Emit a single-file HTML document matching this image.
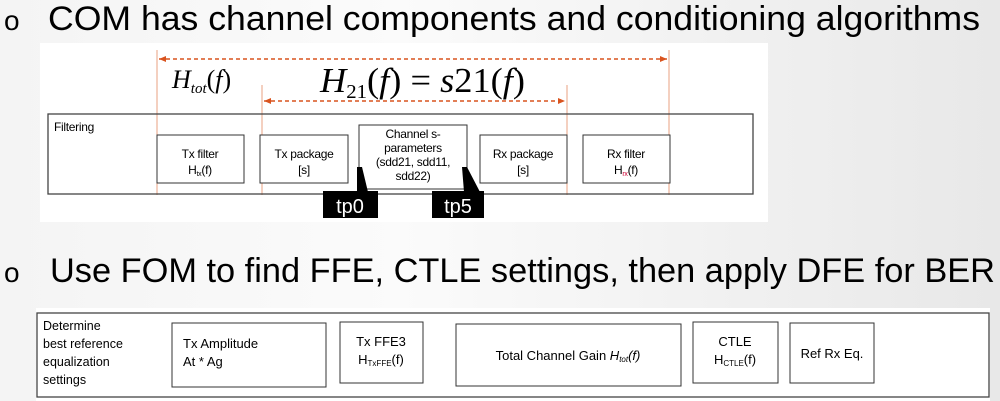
<!DOCTYPE html>
<html><head><meta charset="utf-8"><style>
html,body{margin:0;padding:0;width:1000px;height:401px;overflow:hidden}
body{background:linear-gradient(90deg,#f4f4f4 0%,#fbfbfb 40%,#e8e8e8 100%)}
svg{display:block;font-family:"Liberation Sans",sans-serif}
</style></head><body>
<svg width="1000" height="401" viewBox="0 0 1000 401">
<defs>
<marker id="ar" markerWidth="8" markerHeight="8" refX="7" refY="4" orient="auto-start-reverse" markerUnits="userSpaceOnUse"><path d="M0,1 L7,4 L0,7 z" fill="#d9531e"/></marker>
</defs>
<text x="4" y="30" font-size="28">o</text>
<text x="48" y="30" font-size="34" textLength="932" lengthAdjust="spacingAndGlyphs">COM has channel components and conditioning algorithms</text>
<rect x="40" y="43" width="728" height="179" fill="#fff"/>
<g stroke="#e8a080" stroke-width="1">
<line x1="157" y1="50" x2="157" y2="195"/><line x1="262" y1="85" x2="262" y2="195"/>
<line x1="567" y1="85" x2="567" y2="195"/><line x1="669" y1="50" x2="669" y2="195"/>
</g>
<line x1="159" y1="59" x2="667" y2="59" stroke="#d9531e" stroke-width="1.5" stroke-dasharray="4,3" marker-start="url(#ar)" marker-end="url(#ar)"/>
<line x1="264" y1="101" x2="565" y2="101" stroke="#d9531e" stroke-width="1.5" stroke-dasharray="4,3" marker-start="url(#ar)" marker-end="url(#ar)"/>
<g font-family="Liberation Serif,serif" font-style="italic">
<text x="172" y="88" font-size="26">H<tspan font-size="15" dy="5">tot</tspan><tspan dy="-5" font-style="normal">(</tspan>f<tspan font-style="normal">)</tspan></text>
<text x="320" y="92" font-size="35" textLength="205" lengthAdjust="spacingAndGlyphs">H<tspan font-size="20" dy="6" font-style="normal">21</tspan><tspan dy="-6" font-style="normal">(</tspan>f<tspan font-style="normal">) = </tspan>s<tspan font-style="normal">21(</tspan>f<tspan font-style="normal">)</tspan></text>
</g>
<rect x="48" y="114" width="705" height="80" fill="none" stroke="#444" stroke-width="1.3"/>
<text x="54" y="131" font-size="12" letter-spacing="-0.3">Filtering</text>
<g fill="#fff" stroke="#333" stroke-width="1">
<rect x="157" y="135" width="87" height="48"/><rect x="260" y="135" width="88" height="48"/>
<rect x="359" y="125" width="108" height="64"/><rect x="480" y="135" width="87" height="48"/>
<rect x="583" y="135" width="87" height="48"/>
</g>
<g font-size="12" text-anchor="middle" letter-spacing="-0.3">
<text x="200" y="158">Tx filter</text><text x="200" y="174">H<tspan font-size="7" dy="2">tx</tspan><tspan dy="-2">(f)</tspan></text>
<text x="304" y="158">Tx package</text><text x="304" y="174">[s]</text>
<text x="413" y="138">Channel s-</text><text x="413" y="152">parameters</text><text x="413" y="166">(sdd21, sdd11,</text><text x="413" y="180">sdd22)</text>
<text x="523" y="158">Rx package</text><text x="523" y="174">[s]</text>
<text x="626" y="158">Rx filter</text><text x="626" y="174">H<tspan font-size="7" dy="2" fill="#c03">rx</tspan><tspan dy="-2">(f)</tspan></text>
</g>
<g fill="#000">
<polygon points="357,167 362,167 368,192 357,192"/><rect x="323" y="191" width="55" height="27"/>
<polygon points="462,167 467,167 480,192 464,192"/><rect x="432" y="191" width="52" height="27"/>
</g>
<text x="350" y="213" font-size="20" fill="#fff" text-anchor="middle">tp0</text>
<text x="458" y="213" font-size="20" fill="#fff" text-anchor="middle">tp5</text>

<text x="4" y="282" font-size="28">o</text>
<text x="50" y="282" font-size="34" textLength="945" lengthAdjust="spacingAndGlyphs">Use FOM to find FFE, CTLE settings, then apply DFE for BER</text>
<rect x="36" y="308" width="954" height="93" fill="#fff"/>
<rect x="37" y="313" width="952" height="84" fill="none" stroke="#444" stroke-width="1.3"/>
<g font-size="12.5">
<text x="43" y="330">Determine</text><text x="43" y="348">best reference</text>
<text x="43" y="366">equalization</text><text x="43" y="384">settings</text>
</g>
<g fill="#fff" stroke="#333" stroke-width="1">
<rect x="172" y="323" width="154" height="64"/><rect x="340" y="322" width="83" height="61"/>
<rect x="456" y="324" width="225" height="62"/><rect x="693" y="322" width="85" height="61"/>
<rect x="790" y="323" width="84" height="60"/>
</g>
<g font-size="13">
<text x="183" y="348">Tx Amplitude</text><text x="183" y="366">At * Ag</text>
<text x="381" y="346" text-anchor="middle">Tx FFE3</text>
<text x="381" y="364" text-anchor="middle">H<tspan font-size="8" dy="2">TxFFE</tspan><tspan dy="-2">(f)</tspan></text>
<text x="568" y="360" text-anchor="middle">Total Channel Gain <tspan font-style="italic">H<tspan font-size="8" dy="2">tot</tspan><tspan dy="-2">(f)</tspan></tspan></text>
<text x="735" y="346" text-anchor="middle">CTLE</text>
<text x="735" y="364" text-anchor="middle">H<tspan font-size="8" dy="2">CTLE</tspan><tspan dy="-2">(f)</tspan></text>
<text x="832" y="358" text-anchor="middle">Ref Rx Eq.</text>
</g>
</svg>
</body></html>
